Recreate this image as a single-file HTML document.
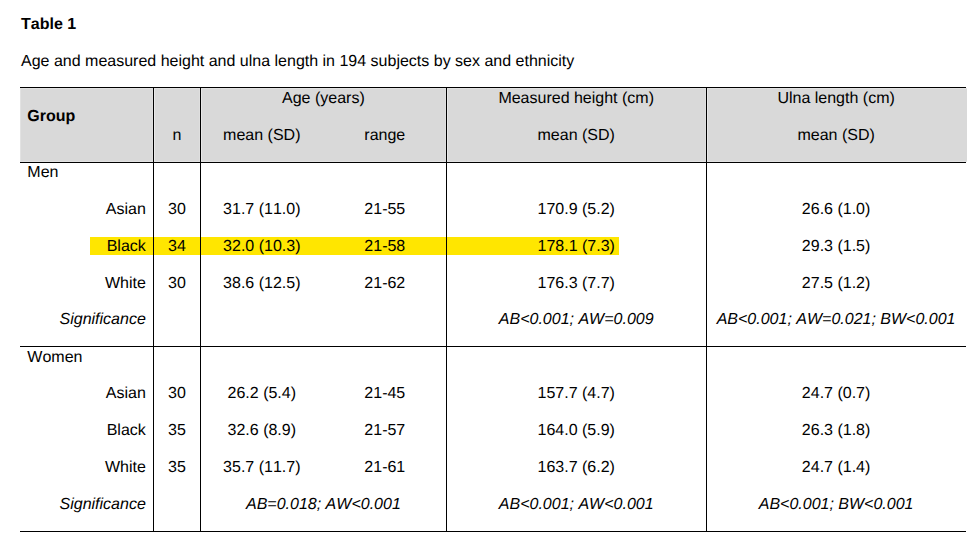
<!DOCTYPE html>
<html><head><meta charset="utf-8"><title>Table 1</title>
<style>
html,body{margin:0;padding:0;background:#fff;}
body{width:980px;height:542px;position:relative;overflow:hidden;font-family:"Liberation Sans",sans-serif;font-size:16px;color:#000;font-kerning:none;font-variant-ligatures:none;text-rendering:geometricPrecision;}
.t{position:absolute;line-height:18px;height:18px;white-space:nowrap;}
.b{position:absolute;}
</style></head><body>
<div class="b" style="left:20px;top:88px;width:947px;height:74px;background:#e2e2e2"></div>
<div class="b" style="left:21px;top:89px;width:946px;height:72px;background:#d9d9d9"></div>
<div class="b" style="left:152px;top:89px;width:1px;height:72px;background:#dfdfdf"></div>
<div class="b" style="left:154px;top:89px;width:1px;height:72px;background:#e8e8e8"></div>
<div class="b" style="left:199px;top:89px;width:1px;height:72px;background:#dfdfdf"></div>
<div class="b" style="left:201px;top:89px;width:1px;height:72px;background:#e8e8e8"></div>
<div class="b" style="left:445px;top:89px;width:1px;height:72px;background:#dfdfdf"></div>
<div class="b" style="left:447px;top:89px;width:1px;height:72px;background:#e8e8e8"></div>
<div class="b" style="left:705px;top:89px;width:1px;height:72px;background:#dfdfdf"></div>
<div class="b" style="left:707px;top:89px;width:1px;height:72px;background:#e8e8e8"></div>
<div class="b" style="left:90px;top:237px;width:529px;height:18px;background:#ffe600"></div>
<div class="b" style="left:20px;top:87px;width:946px;height:1px;background:#000"></div>
<div class="b" style="left:20px;top:162px;width:946px;height:1px;background:#000"></div>
<div class="b" style="left:20px;top:346px;width:946px;height:1px;background:#000"></div>
<div class="b" style="left:20px;top:531px;width:946px;height:1px;background:#000"></div>
<div class="b" style="left:153px;top:87px;width:1px;height:445px;background:#000"></div>
<div class="b" style="left:200px;top:87px;width:1px;height:445px;background:#000"></div>
<div class="b" style="left:446px;top:87px;width:1px;height:445px;background:#000"></div>
<div class="b" style="left:706px;top:87px;width:1px;height:445px;background:#000"></div>
<div class="t" style="top:16.00px;left:21px;font-weight:bold">Table 1</div>
<div class="t" style="top:53.00px;left:21px;">Age and measured height and ulna length in 194 subjects by sex and ethnicity</div>
<div class="t" style="top:108.00px;left:27.3px;font-weight:bold">Group</div>
<div class="t" style="top:127.00px;left:27px;width:300px;text-align:center;">n</div>
<div class="t" style="top:90.00px;left:173.39999999999998px;width:300px;text-align:center;">Age (years)</div>
<div class="t" style="top:127.00px;left:111.80000000000001px;width:300px;text-align:center;">mean (SD)</div>
<div class="t" style="top:127.00px;left:234.8px;width:300px;text-align:center;">range</div>
<div class="t" style="top:90.00px;left:426.20000000000005px;width:300px;text-align:center;">Measured height (cm)</div>
<div class="t" style="top:127.00px;left:426.20000000000005px;width:300px;text-align:center;">mean (SD)</div>
<div class="t" style="top:90.00px;left:686.1px;width:300px;text-align:center;">Ulna length (cm)</div>
<div class="t" style="top:127.00px;left:686.1px;width:300px;text-align:center;">mean (SD)</div>
<div class="t" style="top:164.00px;left:27.3px;">Men</div>
<div class="t" style="top:201.00px;right:834.2px;">Asian</div>
<div class="t" style="top:201.00px;left:27px;width:300px;text-align:center;">30</div>
<div class="t" style="top:201.00px;left:111.80000000000001px;width:300px;text-align:center;">31.7 (11.0)</div>
<div class="t" style="top:201.00px;left:234.8px;width:300px;text-align:center;">21-55</div>
<div class="t" style="top:201.00px;left:426.20000000000005px;width:300px;text-align:center;">170.9 (5.2)</div>
<div class="t" style="top:201.00px;left:686.1px;width:300px;text-align:center;">26.6 (1.0)</div>
<div class="t" style="top:238.00px;right:834.2px;">Black</div>
<div class="t" style="top:238.00px;left:27px;width:300px;text-align:center;">34</div>
<div class="t" style="top:238.00px;left:111.80000000000001px;width:300px;text-align:center;">32.0 (10.3)</div>
<div class="t" style="top:238.00px;left:234.8px;width:300px;text-align:center;">21-58</div>
<div class="t" style="top:238.00px;left:426.20000000000005px;width:300px;text-align:center;">178.1 (7.3)</div>
<div class="t" style="top:238.00px;left:686.1px;width:300px;text-align:center;">29.3 (1.5)</div>
<div class="t" style="top:275.00px;right:834.2px;">White</div>
<div class="t" style="top:275.00px;left:27px;width:300px;text-align:center;">30</div>
<div class="t" style="top:275.00px;left:111.80000000000001px;width:300px;text-align:center;">38.6 (12.5)</div>
<div class="t" style="top:275.00px;left:234.8px;width:300px;text-align:center;">21-62</div>
<div class="t" style="top:275.00px;left:426.20000000000005px;width:300px;text-align:center;">176.3 (7.7)</div>
<div class="t" style="top:275.00px;left:686.1px;width:300px;text-align:center;">27.5 (1.2)</div>
<div class="t" style="top:311.00px;right:834.2px;font-style:italic">Significance</div>
<div class="t" style="top:311.00px;left:426.20000000000005px;width:300px;text-align:center;font-style:italic">AB&lt;0.001; AW=0.009</div>
<div class="t" style="top:311.00px;left:686.1px;width:300px;text-align:center;font-style:italic">AB&lt;0.001; AW=0.021; BW&lt;0.001</div>
<div class="t" style="top:349.00px;left:27.3px;">Women</div>
<div class="t" style="top:385.00px;right:834.2px;">Asian</div>
<div class="t" style="top:385.00px;left:27px;width:300px;text-align:center;">30</div>
<div class="t" style="top:385.00px;left:111.80000000000001px;width:300px;text-align:center;">26.2 (5.4)</div>
<div class="t" style="top:385.00px;left:234.8px;width:300px;text-align:center;">21-45</div>
<div class="t" style="top:385.00px;left:426.20000000000005px;width:300px;text-align:center;">157.7 (4.7)</div>
<div class="t" style="top:385.00px;left:686.1px;width:300px;text-align:center;">24.7 (0.7)</div>
<div class="t" style="top:422.00px;right:834.2px;">Black</div>
<div class="t" style="top:422.00px;left:27px;width:300px;text-align:center;">35</div>
<div class="t" style="top:422.00px;left:111.80000000000001px;width:300px;text-align:center;">32.6 (8.9)</div>
<div class="t" style="top:422.00px;left:234.8px;width:300px;text-align:center;">21-57</div>
<div class="t" style="top:422.00px;left:426.20000000000005px;width:300px;text-align:center;">164.0 (5.9)</div>
<div class="t" style="top:422.00px;left:686.1px;width:300px;text-align:center;">26.3 (1.8)</div>
<div class="t" style="top:459.00px;right:834.2px;">White</div>
<div class="t" style="top:459.00px;left:27px;width:300px;text-align:center;">35</div>
<div class="t" style="top:459.00px;left:111.80000000000001px;width:300px;text-align:center;">35.7 (11.7)</div>
<div class="t" style="top:459.00px;left:234.8px;width:300px;text-align:center;">21-61</div>
<div class="t" style="top:459.00px;left:426.20000000000005px;width:300px;text-align:center;">163.7 (6.2)</div>
<div class="t" style="top:459.00px;left:686.1px;width:300px;text-align:center;">24.7 (1.4)</div>
<div class="t" style="top:496.00px;right:834.2px;font-style:italic">Significance</div>
<div class="t" style="top:496.00px;left:173.39999999999998px;width:300px;text-align:center;font-style:italic">AB=0.018; AW&lt;0.001</div>
<div class="t" style="top:496.00px;left:426.20000000000005px;width:300px;text-align:center;font-style:italic">AB&lt;0.001; AW&lt;0.001</div>
<div class="t" style="top:496.00px;left:686.1px;width:300px;text-align:center;font-style:italic">AB&lt;0.001; BW&lt;0.001</div>
</body></html>
